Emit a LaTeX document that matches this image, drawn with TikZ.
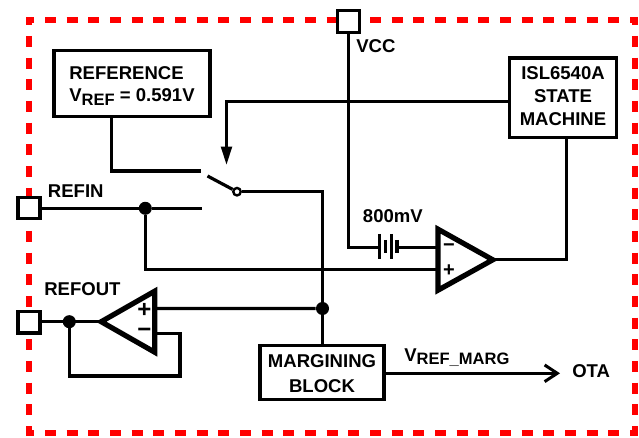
\documentclass[tikz,border=0pt]{standalone}
\usepackage{fontspec}
\setmainfont{Liberation Sans}
\usetikzlibrary{arrows.meta}
\newcommand\subtxt[1]{\raisebox{-2.6pt}{\fontsize{12.4}{12}\selectfont #1}}
\tikzset{
  x=0.75pt,y=-0.75pt,
  every node/.style={font=\fontsize{13.9}{17}\selectfont\bfseries,text=black},
  wire/.style={line width=2.4pt,line join=miter},
  redline/.style={draw=red,line width=4.4pt,dash pattern=on 8.25pt off 8pt,dash phase=2pt},
  blockbox/.style={draw,line width=2.4pt,fill=white,inner sep=0pt},
  pin/.style={draw,line width=2.4pt,fill=white,inner sep=0pt,minimum width=16.5pt,minimum height=16pt},
  dot/.style={circle,fill=black,inner sep=0pt,minimum size=9.8pt},
  lab/.style={inner sep=0pt,anchor=base west},
  amp/.style={draw,line width=3.9pt,fill=white,line join=miter},
  sign/.style={inner sep=0pt,font=\fontsize{15}{15}\selectfont\bfseries,text=black},
  bigsign/.style={inner sep=0pt,font=\fontsize{18}{18}\selectfont\bfseries,text=black},
  sw/.style={circle,draw,line width=1.8pt,fill=white,inner sep=0pt,minimum size=5.6pt}
}
\begin{document}
\begin{tikzpicture}
\useasboundingbox (0,0) rectangle (639,438);
% red boundary
\draw[redline] (26,20) -- (638,20);
\draw[redline] (29,17) -- (29,435);
\draw[redline] (635,17) -- (635,435);
\draw[redline] (26,432.7) -- (638,432.7);
% nodes
\node[blockbox,align=left,minimum width=117pt,minimum height=49pt] (ref) at (132,83.5) {\rule{0pt}{13pt}REFERENCE\\V\subtxt{REF} = 0.591V};
\node[blockbox,align=center,minimum width=80.6pt,minimum height=59.6pt,font=\fontsize{13.9}{17.3}\selectfont\bfseries] (sm) at (563,97.7) {ISL6540A\\STATE\\MACHINE\rule[-2pt]{0pt}{2pt}};
\node[blockbox,align=center,minimum width=93pt,minimum height=40.5pt,font=\fontsize{13.9}{18.6}\selectfont\bfseries] (mb) at (322,372.3) {\rule{0pt}{11.7pt}MARGINING\\BLOCK};
\node[pin] (vcc) at (348.3,21.5) {};
\node[pin] (refin) at (29,207.8) {};
\node[pin] (refout) at (29,322.4) {};
\node[dot] (d1) at (145.3,208.3) {};
\node[dot] (d2) at (69.3,321.7) {};
\node[dot] (d3) at (322.5,308.5) {};
\node[sw] (swc) at (237,191.7) {};
% named points
\coordinate (refend) at (200.7,171);
\coordinate (inend) at (201.7,208.3);
\coordinate (blade) at (207.5,176);
\coordinate (arrowtip) at (226.5,165);
\coordinate (ota) at (560,373.3);
\coordinate (aTop) at (438,229.2);
\coordinate (aBot) at (438,290.2);
\coordinate (aTip) at (492.8,259.8);
\coordinate (bTop) at (154.7,291.2);
\coordinate (bBot) at (154.7,352.2);
\coordinate (bTip) at (101.2,321.7);
\coordinate (b1) at (379.3,247.3);
\coordinate (b4) at (396.7,247.3);
% wires
\draw[wire] (ref.south -| 111.5,0) -- (111.5,171) -- (refend);
\draw[wire,-{Triangle[length=13.8pt,width=8pt]}] (sm.west |- 0,101.5) -- (226.5,101.5) -- (arrowtip);
\draw[wire] (blade) -- (swc);
\draw[wire] (swc) -- (322.5,191.7) -- (mb.north -| 322.5,0);
\draw[wire] (refin.east |- d1) -- (d1) -- (inend);
\draw[wire] (d1) -- (145.3,269.3) -- (438,269.3);
\draw[wire] (vcc) -- (348.3,247.3) -- (b1);
\draw[wire] (b4) -- (438,247.3);
\draw[wire] (379.3,234) -- (379.3,258.7);
\draw[wire] (385.7,240) -- (385.7,253);
\draw[wire] (391.3,234) -- (391.3,258.7);
\draw[wire,line width=3pt] (396.7,240) -- (396.7,253.5);
\draw[wire] (aTip) -- (566.3,259.8) -- (sm.south -| 566.3,0);
\draw[wire] (refout.east |- d2) -- (bTip);
\draw[wire] (d2) -- (69.3,376) -- (180,376) -- (180,333.3) -- (bBot |- 0,333.3);
\draw[wire] (bTop |- 0,308.4) -- (d3);
\draw[wire] (d3) -- (mb.north -| 322.5,0);
\draw[wire,-{Straight Barb[length=9.5pt,width=12.5pt,line width=2.25pt]}] (mb.east |- 0,373.3) -- (ota);
% amplifiers
\draw[amp] (aTop) -- (aTip) -- (aBot) -- cycle;
\draw[amp] (bTop) -- (bTip) -- (bBot) -- cycle;
\node[sign] (am) at (449,247.3) {−};
\node[sign] (ap) at (449,270.7) {+};
\node[bigsign] (bp) at (144.3,310.7) {+};
\node[bigsign] (bm) at (144.3,333.3) {−};
% labels
\node[lab] (lvcc) at (356,52.5) {VCC};
\node[lab] (l800) at (362.7,223) {800mV};
\node[lab] (lin) at (47.7,197.5) {REFIN};
\node[lab] (lout) at (44,295.5) {REFOUT};
\node[lab] (lota) at (572,378) {OTA};
\node[lab] (lmarg) at (404,361) {V\subtxt{REF\_MARG}};
\end{tikzpicture}
\end{document}
